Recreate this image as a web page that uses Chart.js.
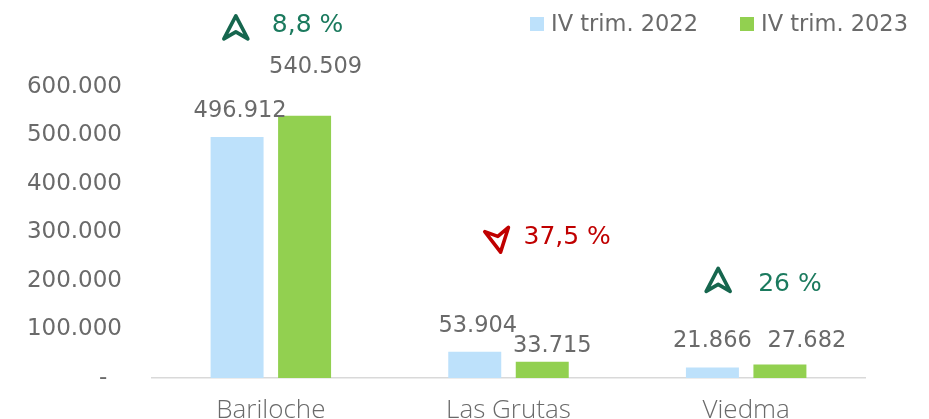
<!DOCTYPE html>
<html>
<head>
<meta charset="utf-8">
<script src="https://cdn.jsdelivr.net/npm/chart.js@4/dist/chart.umd.min.js"></script>
<style>
html,body{margin:0;padding:0;background:#fff;}
#wrap{width:929px;height:419px;position:relative;}
</style>
</head>
<body>
<div id="wrap"><canvas id="c" width="929" height="419"></canvas></div>
<script>
const categories = ['Bariloche', 'Las Grutas', 'Viedma'];
const seriesNames = ['IV trim. 2022', 'IV trim. 2023'];
const values2022 = [496912, 53904, 21866];
const values2023 = [540509, 33715, 27682];
const changeLabels = ['8,8 %', '37,5 %', '26 %'];
const changeUp = [true, false, true];
const yTicks = [0, 100000, 200000, 300000, 400000, 500000, 600000];

const NUM_FONT = '"DejaVu Sans", sans-serif';
const fmt = v => v.toLocaleString('de-DE');

const C2022 = '#BDE1FB';
const C2023 = '#92D050';
const TXT = '#6a6a6a';

// label offsets (px) relative to bar top / bar centre
const labelOffsets = [
  [[3, -26], [11, -49]],
  [[3, -26], [10, -15]],
  [[0, -26], [27, -23]]
];
// annotation anchor: x offset from category centre, text y in data units
const annot = [
  {arrowDx: -35, arrowDy: 2, textDx: 1, yVal: 726000},
  {arrowDx: -10, arrowDy: 3, textDx: 15, yVal: 290000},
  {arrowDx: -28, arrowDy: -4.5, textDx: 12, yVal: 192000}
];

function drawArrow(ctx, x, y, up, color) {
  ctx.save();
  ctx.translate(x, y);
  ctx.rotate(up ? 0 : Math.PI * (170 / 180));
  ctx.beginPath();
  ctx.moveTo(0, -12);
  ctx.lineTo(12, 11);
  ctx.lineTo(0, 4);
  ctx.lineTo(-12, 11);
  ctx.closePath();
  ctx.lineWidth = 3.6;
  ctx.lineJoin = 'round';
  ctx.strokeStyle = color;
  ctx.stroke();
  ctx.restore();
}

const overlay = {
  id: 'overlay',
  afterDatasetsDraw(chart) {
    const ctx = chart.ctx;
    const xs = chart.scales.x, ys = chart.scales.y;
    ctx.save();
    // data labels
    ctx.font = '22.5px ' + NUM_FONT;
    ctx.fillStyle = TXT;
    ctx.textAlign = 'center';
    ctx.textBaseline = 'middle';
    chart.data.datasets.forEach((ds, di) => {
      const meta = chart.getDatasetMeta(di);
      meta.data.forEach((bar, i) => {
        const o = labelOffsets[i][di];
        ctx.fillText(fmt(ds.data[i]), bar.x + o[0], bar.y + o[1]);
      });
    });
    // change annotations
    categories.forEach((c, i) => {
      const cx = xs.getPixelForValue(i);
      const y = ys.getPixelForValue(annot[i].yVal);
      const color = changeUp[i] ? '#16664e' : '#C00000';
      const tcolor = changeUp[i] ? '#1b7a5e' : '#C00000';
      drawArrow(ctx, cx + annot[i].arrowDx, y + annot[i].arrowDy, changeUp[i], color);
      ctx.font = '25px ' + NUM_FONT;
      ctx.fillStyle = tcolor;
      ctx.textAlign = 'left';
      ctx.textBaseline = 'middle';
      ctx.fillText(changeLabels[i], cx + annot[i].textDx, y);
    });
    // legend
    ctx.font = '22.5px ' + NUM_FONT;
    ctx.textBaseline = 'middle';
    ctx.textAlign = 'left';
    const lx = [530, 740];
    [C2022, C2023].forEach((col, k) => {
      ctx.fillStyle = col;
      ctx.fillRect(lx[k], 17, 14, 14);
      ctx.fillStyle = TXT;
      ctx.fillText(seriesNames[k], lx[k] + 21, 25);
    });
    ctx.restore();
  }
};

new Chart(document.getElementById('c'), {
  type: 'bar',
  data: {
    labels: categories,
    datasets: [
      {label: seriesNames[0], data: values2022, backgroundColor: C2022, categoryPercentage: 0.568, barPercentage: 0.785},
      {label: seriesNames[1], data: values2023, backgroundColor: C2023, categoryPercentage: 0.568, barPercentage: 0.785}
    ]
  },
  options: {
    responsive: false,
    animation: false,
    layout: {padding: {top: 87, right: 64, bottom: 0, left: 0}},
    plugins: {legend: {display: false}, tooltip: {enabled: false}},
    scales: {
      x: {
        grid: {display: false, drawTicks: false},
        border: {display: true, color: '#D9D9D9', width: 1.5},
        ticks: {padding: 17, color: TXT, font: {family: '"Open Sans", sans-serif', size: 26, weight: 300}},
        afterFit(s) { s.height = 41; s.paddingLeft = 0; s.paddingRight = 0; }
      },
      y: {
        min: 0, max: 600000,
        afterBuildTicks(s) { s.ticks = yTicks.map(v => ({value: v})); },
        grid: {display: false, drawTicks: false},
        border: {display: false},
        ticks: {
          padding: 30, color: TXT,
          font: {family: NUM_FONT, size: 23},
          callback: v => v === 0 ? '-  ' : fmt(v)
        },
        afterFit(s) { s.width = 152; s.paddingTop = 0; s.paddingBottom = 0; }
      }
    }
  },
  plugins: [overlay]
});
</script>
</body>
</html>
